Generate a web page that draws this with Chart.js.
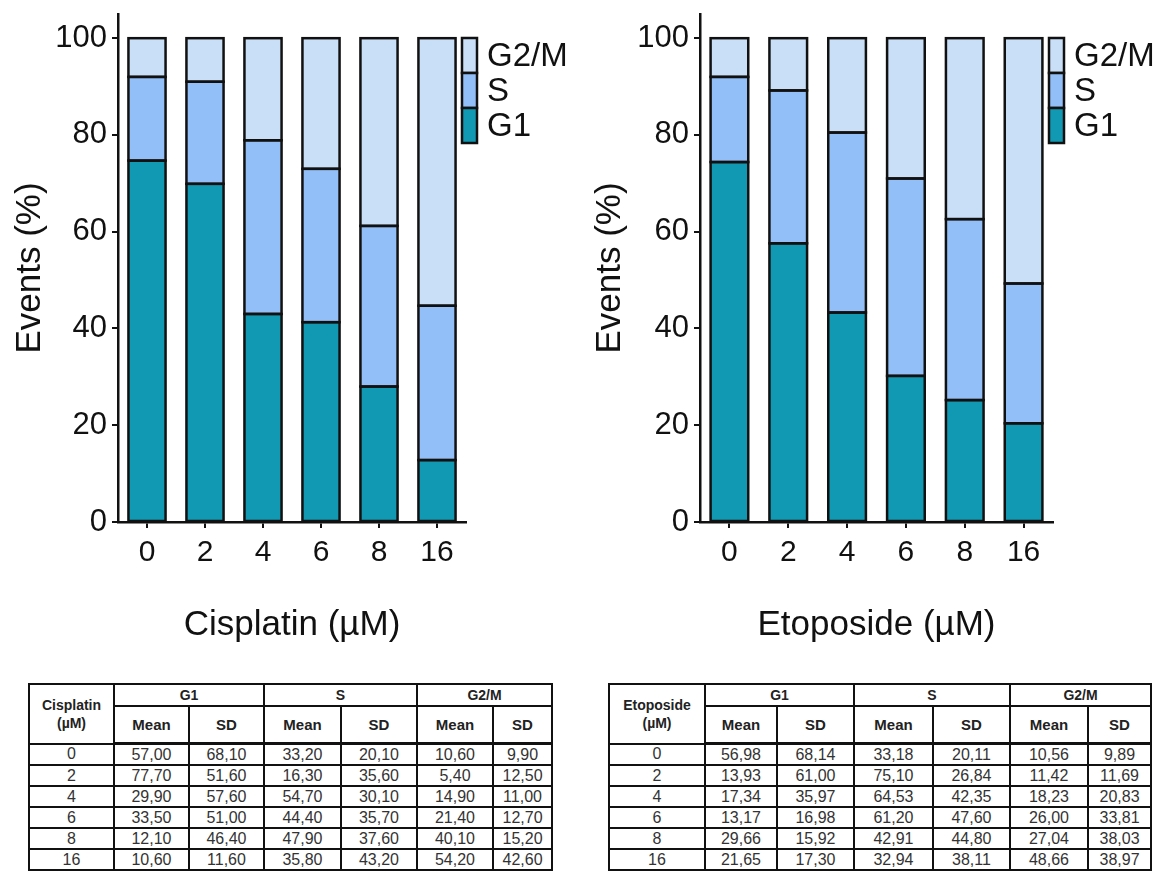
<!DOCTYPE html>
<html>
<head>
<meta charset="utf-8">
<script src="https://cdn.jsdelivr.net/npm/chart.js@4.4.1/dist/chart.umd.min.js"></script>
<style>
  body { margin: 0; background: #fff; width: 1157px; height: 871px; overflow: hidden; position: relative;
         font-family: "Liberation Sans", Arial, sans-serif; }
  canvas { position: absolute; top: 0; }
  #cisChart { left: 0; }
  #etoChart { left: 580px; }
  table { position: absolute; border-collapse: collapse; table-layout: fixed; color: #333; font-size: 16px; }
  td, th { border: 2px solid #111; text-align: center; padding: 0; line-height: 18px; }
  th { font-weight: bold; color: #222; font-size: 14px; }
  tr.h1 th { height: 20px; }
  tr.h2 th { height: 35px; border-bottom-width: 3px; font-size: 15px; }
  tr.d td { height: 19px; }
</style>
</head>
<body>
<canvas id="cisChart" width="578" height="660"></canvas>
<canvas id="etoChart" width="577" height="660"></canvas>
<table id="cisTable" style="left:28px; top:683px; width:523px;"></table>
<table id="etoTable" style="left:608px; top:683px; width:542px;"></table>

<script>
// x categories (µM)
const doses = ['0', '2', '4', '6', '8', '16'];
const phases = ['G1', 'S', 'G2/M'];

// bar segments (%)
const cisG1  = [74.7, 69.9, 43.0, 41.3, 28.0, 12.8];
const cisS   = [17.3, 21.1, 35.9, 31.7, 33.2, 31.9];
const cisG2M = [8.0, 9.0, 21.1, 27.0, 38.8, 55.3];

const etoG1  = [74.4, 57.6, 43.3, 30.2, 25.2, 20.4];
const etoS   = [17.6, 31.6, 37.2, 40.8, 37.4, 28.9];
const etoG2M = [8.0, 10.8, 19.5, 29.0, 37.4, 50.7];

const yTicks = [0, 20, 40, 60, 80, 100];

// table values as printed
const cisG1Mean  = ['57,00', '77,70', '29,90', '33,50', '12,10', '10,60'];
const cisG1SD    = ['68,10', '51,60', '57,60', '51,00', '46,40', '11,60'];
const cisSMean   = ['33,20', '16,30', '54,70', '44,40', '47,90', '35,80'];
const cisSSD     = ['20,10', '35,60', '30,10', '35,70', '37,60', '43,20'];
const cisG2MMean = ['10,60', '5,40', '14,90', '21,40', '40,10', '54,20'];
const cisG2MSD   = ['9,90', '12,50', '11,00', '12,70', '15,20', '42,60'];

const etoG1Mean  = ['56,98', '13,93', '17,34', '13,17', '29,66', '21,65'];
const etoG1SD    = ['68,14', '61,00', '35,97', '16,98', '15,92', '17,30'];
const etoSMean   = ['33,18', '75,10', '64,53', '61,20', '42,91', '32,94'];
const etoSSD     = ['20,11', '26,84', '42,35', '47,60', '44,80', '38,11'];
const etoG2MMean = ['10,56', '11,42', '18,23', '26,00', '27,04', '48,66'];
const etoG2MSD   = ['9,89', '11,69', '20,83', '33,81', '38,03', '38,97'];

const FONT = '"Liberation Sans", Arial, sans-serif';
const colors = ['#1199b3', '#93bff8', '#c9dff8'];

// even black outline round every bar segment
const barOutline = {
    id: 'barOutline',
    afterDatasetsDraw(chart) {
        const ctx = chart.ctx;
        ctx.save();
        ctx.strokeStyle = '#111';
        ctx.lineWidth = 2.5;
        chart.data.datasets.forEach(function (ds, i) {
            chart.getDatasetMeta(i).data.forEach(function (el) {
                const p = el.getProps(['x', 'y', 'base', 'width'], true);
                ctx.strokeRect(p.x - p.width / 2, Math.min(p.y, p.base), p.width, Math.abs(p.base - p.y));
            });
        });
        ctx.restore();
    }
};

// legend drawn as a stacked column of boxes, G2/M on top
const stackLegend = {
    id: 'stackLegend',
    afterDraw(chart) {
        const ctx = chart.ctx;
        const area = chart.chartArea;
        const x = area.right - 4, top = area.top + 24, h = 35, w = 15;
        const items = chart.data.datasets.slice().reverse();
        ctx.save();
        items.forEach(function (ds, i) {
            const y = top + i * h;
            ctx.fillStyle = ds.backgroundColor;
            ctx.fillRect(x, y, w, h);
            ctx.strokeStyle = '#111';
            ctx.lineWidth = 2.5;
            ctx.strokeRect(x, y, w, h);
            ctx.fillStyle = '#111';
            ctx.font = '33px ' + FONT;
            ctx.textBaseline = 'middle';
            ctx.fillText(ds.label, x + w + 10, y + h / 2 + 1);
        });
        ctx.restore();
    }
};

function makeChart(id, xTitle, g1, s, g2m, areaLeft, areaRight, canvasW) {
    const series = [g1, s, g2m];
    new Chart(document.getElementById(id), {
        type: 'bar',
        data: {
            labels: doses,
            datasets: phases.map(function (p, i) {
                return { label: p, data: series[i], backgroundColor: colors[i] };
            })
        },
        options: {
            responsive: false,
            animation: false,
            layout: { padding: { top: 14, right: canvasW - areaRight, left: 0, bottom: 0 } },
            datasets: {
                bar: { borderWidth: 0, categoryPercentage: 1, barPercentage: 0.64 }
            },
            plugins: { legend: { display: false }, tooltip: { enabled: false } },
            scales: {
                x: {
                    stacked: true,
                    grid: { drawOnChartArea: false, offset: false, tickLength: 6, color: '#111', lineWidth: 2 },
                    border: { color: '#111', width: 2.5 },
                    ticks: { font: { size: 30, family: FONT }, color: '#111', padding: 7 },
                    title: {
                        display: true, text: xTitle, color: '#111',
                        font: { size: 35, family: FONT }, padding: { top: 0, bottom: 14 }
                    },
                    afterFit(sc) { sc.height = 138; sc.paddingLeft = 0; sc.paddingRight = 0; }
                },
                y: {
                    stacked: true, min: 0, max: 105,
                    afterBuildTicks(sc) { sc.ticks = yTicks.map(function (v) { return { value: v }; }); },
                    grid: { drawOnChartArea: false, tickLength: 6, color: '#111', lineWidth: 2 },
                    border: { color: '#111', width: 2.5 },
                    ticks: { font: { size: 31, family: FONT }, color: '#111', padding: 5 },
                    title: {
                        display: true, text: 'Events (%)', color: '#111',
                        font: { size: 35, family: FONT }, padding: { top: 9, bottom: 0 }
                    },
                    afterFit(sc) { sc.width = areaLeft; sc.paddingTop = 0; sc.paddingBottom = 0; }
                }
            }
        },
        plugins: [barOutline, stackLegend]
    });
}

makeChart('cisChart', 'Cisplatin (µM)', cisG1, cisS, cisG2M, 118, 466, 578);
makeChart('etoChart', 'Etoposide (µM)', etoG1, etoS, etoG2M, 120, 473, 577);

function buildTable(id, drug, widths, cols) {
    let html = '<colgroup>' + widths.map(function (w) { return '<col style="width:' + w + 'px">'; }).join('') + '</colgroup>';
    html += '<tr class="h1"><th rowspan="2">' + drug + '<br>(µM)</th>' +
        phases.map(function (p) { return '<th colspan="2">' + p + '</th>'; }).join('') + '</tr>';
    html += '<tr class="h2">' + phases.map(function () { return '<th>Mean</th><th>SD</th>'; }).join('') + '</tr>';
    doses.forEach(function (d, r) {
        html += '<tr class="d"><td>' + d + '</td>' + cols.map(function (c) { return '<td>' + c[r] + '</td>'; }).join('') + '</tr>';
    });
    document.getElementById(id).innerHTML = html;
}

buildTable('cisTable', 'Cisplatin', [85, 75, 75, 77, 76, 76, 59],
    [cisG1Mean, cisG1SD, cisSMean, cisSSD, cisG2MMean, cisG2MSD]);
buildTable('etoTable', 'Etoposide', [96, 72, 77, 79, 77, 78, 63],
    [etoG1Mean, etoG1SD, etoSMean, etoSSD, etoG2MMean, etoG2MSD]);
</script>
</body>
</html>
